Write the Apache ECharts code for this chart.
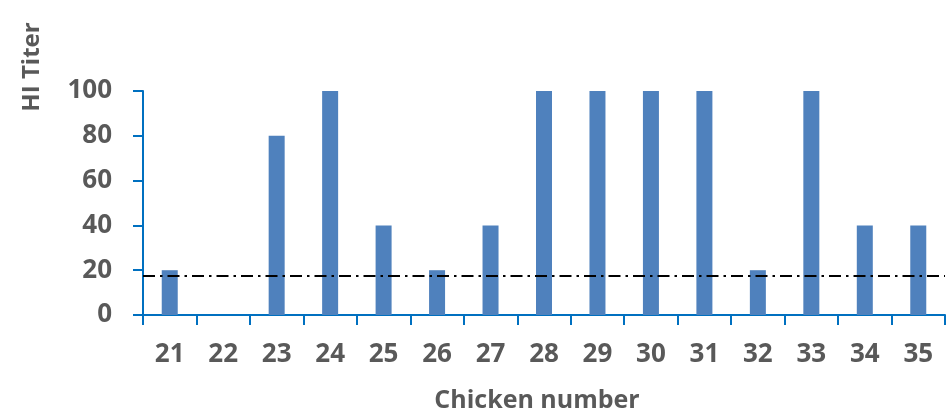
<!DOCTYPE html>
<html>
<head>
<meta charset="utf-8">
<script src="https://cdn.jsdelivr.net/npm/echarts@6/dist/echarts.min.js"></script>
<style>html,body{margin:0;padding:0;background:#fff}#c{width:951px;height:409px}</style>
</head>
<body>
<div id="c"></div>
<script>
var categories = ['21','22','23','24','25','26','27','28','29','30','31','32','33','34','35'];
var titers = [20,0,80,100,40,20,40,100,100,100,100,20,100,40,40];
var threshold = 17.5;
var yTicks = {min:0, max:100, interval:20};

var chart = echarts.init(document.getElementById('c'));
var axisColor = '#0070C0';
var txt = '#595959';
var font = 'Open Sans';
chart.setOption({
  animation:false,
  grid:{left:143, right:6, top:91, bottom:94, containLabel:false, outerBoundsMode:'none'},
  graphic:[{type:'text', x:32, y:67, rotation:Math.PI/2,
    style:{text:'HI Titer', fill:txt, font:'bold 24px "Open Sans"', textAlign:'center', textVerticalAlign:'middle'}}],
  xAxis:{type:'category', data:categories,
    name:'Chicken number', nameLocation:'middle', nameGap:73,
    nameTextStyle:{color:txt, fontFamily:font, fontWeight:'bold', fontSize:25, padding:[0,14,0,0]},
    axisLine:{lineStyle:{color:axisColor, width:2}},
    axisTick:{show:true, length:10, lineStyle:{color:axisColor, width:2}},
    axisLabel:{color:txt, fontFamily:font, fontWeight:'bold', fontSize:26, margin:27}},
  yAxis:{type:'value', min:yTicks.min, max:yTicks.max, interval:yTicks.interval,
    axisLine:{show:true, lineStyle:{color:axisColor, width:2}},
    axisTick:{show:true, length:10, lineStyle:{color:axisColor, width:2}},
    splitLine:{show:false},
    axisLabel:{color:txt, fontFamily:font, fontWeight:'bold', fontSize:26, margin:31}},
  series:[{type:'bar', data:titers, barWidth:16,
    itemStyle:{color:'#4F81BD'},
    markLine:{silent:true, symbol:'none', label:{show:false},
      lineStyle:{color:'#000', width:2, type:[12,5,2.5,5]},
      data:[{yAxis:threshold}]}}]
});
</script>
</body>
</html>
